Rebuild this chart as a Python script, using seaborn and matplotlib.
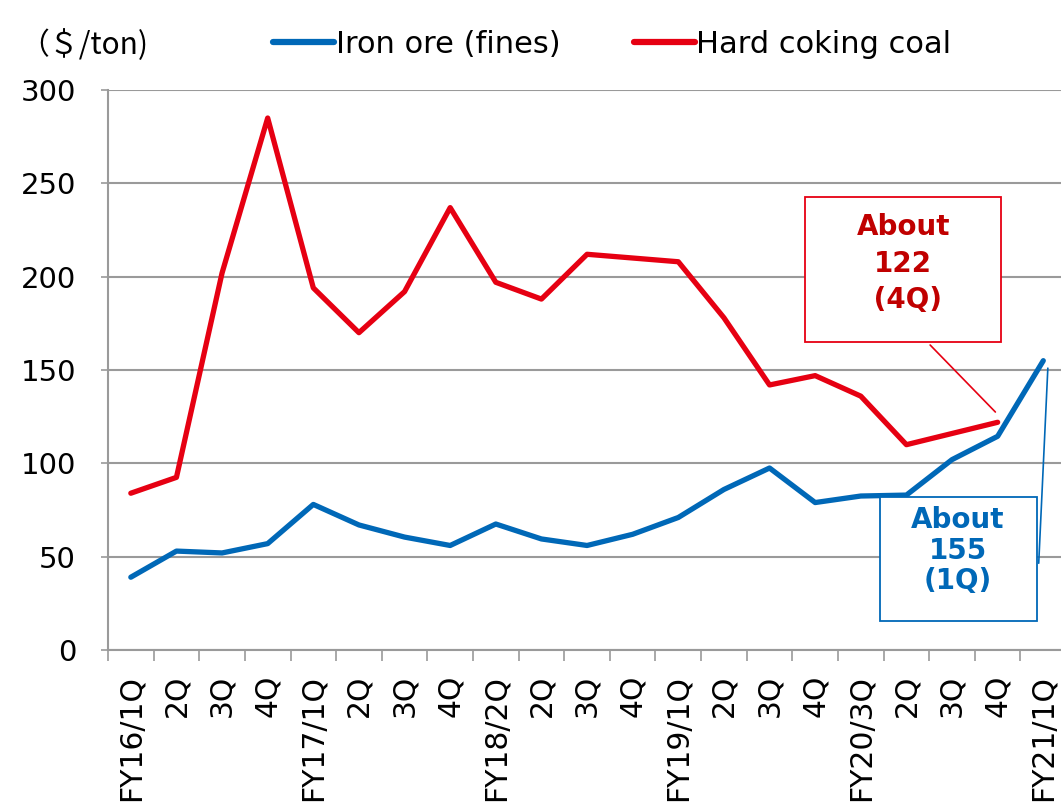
import numpy as np
import pandas as pd
import matplotlib.pyplot as plt
from matplotlib.patches import Rectangle
import seaborn as sns

quarters = ["FY16/1Q", "2Q", "3Q", "4Q", "FY17/1Q", "2Q", "3Q", "4Q",
            "FY18/2Q", "2Q", "3Q", "4Q", "FY19/1Q", "2Q", "3Q", "4Q",
            "FY20/3Q", "2Q", "3Q", "4Q", "FY21/1Q"]
iron_ore = [39, 53, 52, 57, 78, 67, 60.5, 56, 67.5, 59.5, 56, 62, 71, 86,
            97.5, 79, 82.5, 83, 102, 114.5, 155]
coking_coal = [84, 92.5, 202, 285, 194, 170, 192, 237, 197, 188, 212, 210,
               208, 178, 142, 147, 136, 110, 116, 122, np.nan]
y_ticks = [0, 50, 100, 150, 200, 250, 300]

BLUE = "#0068B7"
RED = "#E60012"
GRID = "#9A9A9A"

sns.set_style("white")
plt.rcParams["font.family"] = ["DejaVu Sans"]
plt.rcParams["text.color"] = "black"
plt.rcParams["xtick.color"] = "black"
plt.rcParams["ytick.color"] = "black"

df = pd.DataFrame({
    "pos": np.arange(len(quarters)),
    "Iron ore (fines)": iron_ore,
    "Hard coking coal": coking_coal,
})

fig = plt.figure(figsize=(10.61, 8.11), dpi=100)
ax = fig.add_axes([0.1018, 0.1985, 0.903, 0.6905])

sns.lineplot(data=df, x="pos", y="Iron ore (fines)", color=BLUE, lw=3.8,
             ax=ax, label="Iron ore (fines)", solid_capstyle="round")
sns.lineplot(data=df, x="pos", y="Hard coking coal", color=RED, lw=3.8,
             ax=ax, label="Hard coking coal", solid_capstyle="round")

ax.set_xlim(-0.5, len(quarters) - 0.5)
ax.set_ylim(0, 300)
ax.set_yticks(y_ticks)
ax.yaxis.grid(True, color=GRID, lw=1.5)
ax.set_axisbelow(True)
ax.set_xlabel("")
ax.set_ylabel("")

ax.set_xticks(np.arange(len(quarters)))
ax.set_xticklabels(quarters, rotation=90, fontsize=21.5)
ax.set_xticks(np.arange(-0.5, len(quarters)), minor=True)
ax.tick_params(axis="x", which="major", length=0, pad=18)
ax.tick_params(axis="x", which="minor", length=8, width=1.2, color=GRID,
               direction="out", bottom=True)
ax.tick_params(axis="y", length=5, width=1.2, color=GRID, labelsize=21,
               labelcolor="black", pad=18, left=True)

for s in ["top", "right"]:
    ax.spines[s].set_visible(False)
for s in ["left", "bottom"]:
    ax.spines[s].set_color(GRID)
    ax.spines[s].set_linewidth(1.5)

leg = ax.legend(loc="center", bbox_to_anchor=(0.577, 0.945),
                bbox_transform=fig.transFigure, ncol=2, frameon=False,
                fontsize=22, handlelength=2.0, handletextpad=0.05,
                columnspacing=2.4)
for h in leg.get_lines():
    h.set_linewidth(4.5)

fig.text(0.018, 0.945, "（＄/ton)", fontsize=21.5, va="center",
         family=["Noto Sans CJK JP", "DejaVu Sans"])

# callout for coking coal
ax.add_patch(Rectangle((14.78, 165), 4.30, 77.7, facecolor="white",
                       edgecolor=RED, lw=1.3, zorder=5, clip_on=False))
ax.text(16.93, 207, "About\n122\n (4Q)", color="#C00000", fontsize=20,
        fontweight="bold", ha="center", va="center", linespacing=1.38,
        zorder=6)
ax.plot([17.52, 18.95], [163.4, 127.5], color=RED, lw=1.2, zorder=5)

# callout for iron ore
ax.add_patch(Rectangle((16.42, 15.5), 3.45, 66.5, facecolor="white",
                       edgecolor=BLUE, lw=1.3, zorder=5, clip_on=False))
ax.text(18.13, 53.3, "About\n155\n(1Q)", color=BLUE, fontsize=20,
        fontweight="bold", ha="center", va="center", linespacing=1.13,
        zorder=6)
ax.plot([19.9, 20.1], [46.5, 151], color=BLUE, lw=1.2, zorder=5,
        clip_on=False)

fig.savefig("out.png", dpi=100)
